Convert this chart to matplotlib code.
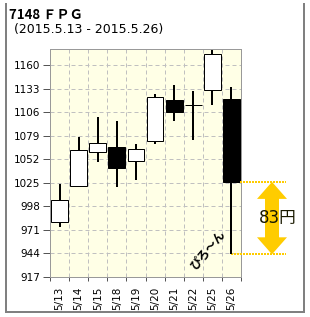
import matplotlib
matplotlib.use('Agg')
import matplotlib.pyplot as plt
from matplotlib.lines import Line2D
from matplotlib.patches import Polygon
import numpy as np

# --- data ---
dates  = ['5/13', '5/14', '5/15', '5/18', '5/19', '5/20', '5/21', '5/22', '5/25', '5/26']
opens  = [980, 1021, 1060, 1066, 1050, 1073, 1120, 1114, 1131, 1121]
highs  = [1024, 1077, 1100, 1096, 1069, 1127, 1137, 1130, 1177, 1135]
lows   = [974, 1020, 1049, 1020, 1028, 1069, 1096, 1074, 1114, 943]
closes = [1005, 1062, 1070, 1042, 1064, 1123, 1106, 1114, 1172, 1026]
yticks = [917, 944, 971, 998, 1025, 1052, 1079, 1106, 1133, 1160]

W, H = 310, 317
GOLD = '#FFCC00'
px = 0.72  # one pixel in points at dpi 100
JP = ['Noto Sans CJK JP', 'DejaVu Sans']

fig = plt.figure(figsize=(W / 100, H / 100), dpi=100)
fig.patch.set_facecolor('white')
ax = fig.add_axes([50 / W, 1 - 277 / H, 191 / W, 228 / H])
ax.set_facecolor('#FFFFE6')

x = np.arange(len(dates))
o = np.array(opens); c = np.array(closes)
ax.vlines(x, lows, highs, color='black', lw=2 * px, zorder=3)
bw = 0.88
for xi, oi, ci in zip(x, o, c):
    if oi == ci:
        ax.hlines(oi, xi - bw / 2, xi + bw / 2, color='black', lw=px, zorder=4)
    else:
        ax.bar(xi, abs(ci - oi), bottom=min(oi, ci), width=bw,
               color='white' if ci > oi else 'black', edgecolor='black', lw=px, zorder=4)

ax.set_xlim(-0.5, len(dates) - 0.5)
ax.set_ylim(917, 1178.3)
ax.set_yticks(yticks)
ax.set_yticklabels([str(v) for v in yticks], fontsize=7.5)
ax.set_xticks(x)
ax.set_xticklabels(dates, rotation=90, fontsize=7.5)
ax.set_xticks(np.arange(-0.5, len(dates)), minor=True)
ax.tick_params(axis='x', which='major', length=0, pad=7)
ax.tick_params(axis='x', which='minor', length=3, width=px, color='#555555')
ax.tick_params(axis='y', length=5, width=px, color='#555555', pad=2)
ax.grid(axis='y', which='major', color='#C0C0C0', lw=px, ls=(0, (4, 3)))
ax.grid(axis='x', which='minor', color='#C0C0C0', lw=px, ls=(0, (4, 3)))
ax.set_axisbelow(True)
for s in ax.spines.values():
    s.set_color('#999999'); s.set_linewidth(px)

# --- annotation for the last candle drop ---
last = len(dates) - 1
ax.hlines(closes[last], last + bw / 2, last + 2.88, color=GOLD, lw=2 * px,
          ls=(0, (1, 0.5)), clip_on=False, zorder=5)
ax.hlines(lows[last], last, last + 2.88, color=GOLD, lw=2 * px,
          ls=(0, (1, 0.5)), clip_on=False, zorder=5)
ax.vlines(last, lows[last], closes[last], color='black', lw=2 * px, zorder=6)

cx = last + 0.5 + 31 / 19.1
hw, sw, hh = 15 / 19.1, 7 / 19.1, 17 * 1.146
top, bot = closes[last], lows[last]
arrow = Polygon([(cx, top), (cx + hw, top - hh), (cx + sw, top - hh), (cx + sw, bot + hh),
                 (cx + hw, bot + hh), (cx, bot), (cx - hw, bot + hh), (cx - sw, bot + hh),
                 (cx - sw, top - hh), (cx - hw, top - hh)],
                closed=True, facecolor=GOLD, edgecolor='none', clip_on=False, zorder=5)
ax.add_patch(arrow)
ax.text(last + 0.5 + 37 / 19.1, (top + bot) / 2, f'{top - bot}円', fontsize=12,
        family=['DejaVu Sans', 'Noto Sans CJK JP'], color='#1a1a00',
        ha='center', va='center', clip_on=False, zorder=7)
ax.text(7.77, 948, 'ぴろ〜ん', fontsize=8.5, family=JP, fontweight='bold',
        rotation=50, ha='center', va='center', rotation_mode='anchor', zorder=7)

# --- header and frame ---
fig.text(9 / W, 1 - 19 / H, '7148 ＦＰＧ', fontsize=9.5, fontweight='bold',
         family=JP, va='baseline')
fig.text(14 / W, 1 - 33 / H, '(2015.5.13 - 2015.5.26)', fontsize=9, va='baseline')
fr = dict(color='#808080', lw=2 * px, transform=fig.transFigure)
fig.add_artist(Line2D([5.5 / W, 5.5 / W], [1 - 4 / H, 1 - 312 / H], **fr))
fig.add_artist(Line2D([304 / W, 304 / W], [1 - 4 / H, 1 - 312 / H], **fr))
fig.add_artist(Line2D([5.5 / W, 304 / W], [1 - 312 / H, 1 - 312 / H], **fr))

fig.savefig('out.png', dpi=100)
